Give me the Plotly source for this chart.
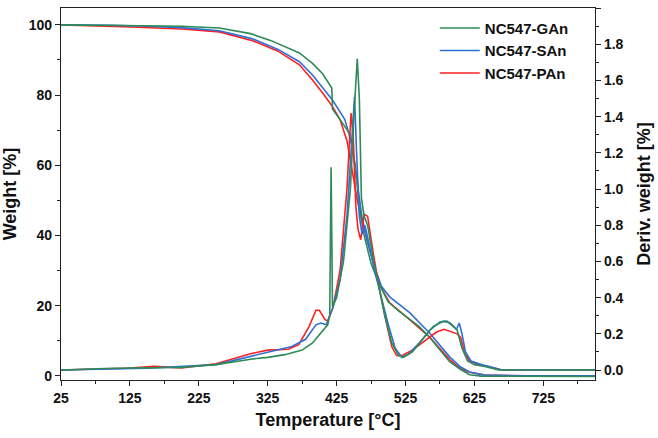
import plotly.graph_objects as go

# ---------------- data ----------------
samples = ["NC547-GAn", "NC547-SAn", "NC547-PAn"]
colors = ["#2E8B57", "#2F6FD6", "#FF2020"]

# weight (TGA) curves
gan_w_T = [25, 100, 150, 200, 255, 300, 330, 371, 390, 405, 418, 419, 430, 444, 452, 458, 465, 475, 487, 500, 515, 531, 545, 560, 575, 589, 605, 618, 635, 700, 800]
gan_w   = [100, 99.9, 99.8, 99.6, 99.1, 97.5, 95.5, 92, 89, 86, 82, 76, 73, 69, 60, 48, 40, 32, 26, 21, 18.5, 16, 14, 11, 7.5, 4, 1.8, 0.3, -0.1, -0.2, -0.2]

san_w_T = [25, 100, 150, 200, 255, 303, 340, 371, 390, 405, 419, 437, 447, 455, 462, 470, 480, 490, 502, 531, 560, 589, 605, 618, 640, 700, 800]
san_w   = [100, 99.9, 99.6, 99.2, 98.3, 96, 93, 89.5, 85.7, 82, 78.6, 73, 66, 55, 45, 38, 31, 25.5, 22.5, 18, 12.2, 5.4, 2.5, 1.1, 0.2, 0, 0]

pan_w_T = [25, 100, 127, 200, 255, 303, 340, 371, 390, 405, 419, 430, 440, 448, 455, 462, 470, 480, 490, 502, 531, 560, 589, 605, 618, 640, 700, 800]
pan_w   = [100, 99.6, 99.4, 98.8, 98, 95.5, 92.5, 88.6, 84.3, 80.5, 76.7, 73, 67, 58, 50, 44, 38, 31, 25, 20.8, 16, 11, 4.6, 2, 1, 0.2, 0, 0]

# derivative (DTG) curves
gan_d_T = [25, 100, 200, 250, 300, 325, 350, 375, 390, 405, 412, 415, 417, 419, 425, 435, 445, 450, 455, 458, 461, 465, 470, 478, 487, 495, 505, 515, 522, 535, 550, 565, 580, 590, 600, 607, 615, 625, 640, 660, 800]
gan_d   = [0.0, 0.01, 0.015, 0.03, 0.06, 0.07, 0.085, 0.11, 0.15, 0.22, 0.25, 0.3, 1.12, 0.35, 0.4, 0.6, 1.0, 1.4, 1.72, 1.5, 0.95, 0.85, 0.8, 0.62, 0.45, 0.3, 0.15, 0.08, 0.07, 0.1, 0.17, 0.24, 0.27, 0.26, 0.22, 0.12, 0.05, 0.03, 0.02, 0.0, 0.0]

san_d_T = [25, 150, 250, 300, 330, 360, 380, 395, 402, 410, 420, 430, 440, 447, 451, 454, 458, 462, 466, 472, 480, 490, 500, 510, 520, 530, 545, 560, 575, 585, 595, 599, 603, 607, 612, 620, 635, 650, 665, 800]
san_d   = [0.0, 0.01, 0.03, 0.075, 0.1, 0.13, 0.17, 0.25, 0.26, 0.25, 0.35, 0.5, 0.85, 1.3, 1.51, 1.2, 0.85, 0.75, 0.8, 0.7, 0.55, 0.4, 0.25, 0.12, 0.07, 0.09, 0.15, 0.22, 0.265, 0.27, 0.24, 0.225, 0.26, 0.2, 0.1, 0.05, 0.03, 0.015, 0.0, 0.0]

pan_d_T = [25, 120, 160, 200, 250, 300, 325, 355, 370, 385, 395, 400, 408, 412, 420, 430, 440, 446, 449, 453, 456, 460, 465, 470, 478, 487, 495, 505, 512, 520, 535, 555, 570, 581, 592, 600, 605, 611, 618, 632, 650, 665, 800]
pan_d   = [0.0, 0.01, 0.02, 0.012, 0.035, 0.09, 0.11, 0.115, 0.14, 0.24, 0.33, 0.33, 0.28, 0.27, 0.35, 0.55, 1.0, 1.42, 1.3, 0.9, 0.78, 0.72, 0.86, 0.85, 0.65, 0.45, 0.3, 0.13, 0.08, 0.08, 0.11, 0.165, 0.21, 0.225, 0.21, 0.2, 0.18, 0.09, 0.05, 0.03, 0.015, 0.0, 0.0]

weights = [(gan_w_T, gan_w), (san_w_T, san_w), (pan_w_T, pan_w)]
derivs = [(gan_d_T, gan_d), (san_d_T, san_d), (pan_d_T, pan_d)]

# ---------------- figure ----------------
fig = go.Figure()
for i in [2, 1, 0]:
    tw, w = weights[i]
    td, d = derivs[i]
    fig.add_trace(go.Scatter(x=tw, y=w, mode="lines", name="<b>" + samples[i] + "</b>",
                             line=dict(color=colors[i], width=1.6),
                             legendgroup=samples[i], showlegend=True, legendrank=i + 1))
    fig.add_trace(go.Scatter(x=td, y=d, mode="lines", name="<b>" + samples[i] + "</b>", yaxis="y2",
                             line=dict(color=colors[i], width=1.6),
                             legendgroup=samples[i], showlegend=False))

FONT = "Liberation Sans, Arial, sans-serif"
tickfont = dict(family=FONT, size=14, color="#111")
titlefont = dict(family=FONT, size=18, color="#111")

fig.update_layout(
    width=658, height=438,
    margin=dict(l=61, r=63, t=8, b=58),
    paper_bgcolor="white", plot_bgcolor="white",
    font=dict(family=FONT, color="#111"),
    xaxis=dict(range=[25, 800], tick0=25, dtick=100, showgrid=False, zeroline=False,
               showline=True, linecolor="#222", linewidth=1.2, mirror=True,
               ticks="outside", ticklen=5, tickcolor="#222",
               minor=dict(ticks="outside", tick0=25, dtick=50, ticklen=3, tickcolor="#222"),
               tickfont=tickfont, tickprefix="<b>", ticksuffix="</b>",
               title=dict(text="<b>Temperature [°C]</b>", font=titlefont, standoff=8)),
    yaxis=dict(range=[-1.2, 104.8], tick0=0, dtick=20, showgrid=False, zeroline=False,
               showline=True, linecolor="#222", linewidth=1.2,
               ticks="outside", ticklen=5, tickcolor="#222",
               minor=dict(ticks="outside", dtick=10, ticklen=3, tickcolor="#222"),
               tickfont=tickfont, tickprefix="<b>", ticksuffix="</b>",
               title=dict(text="<b>Weight [%]</b>", font=titlefont, standoff=8)),
    yaxis2=dict(range=[-0.055, 2.0], tick0=0, dtick=0.2, tickformat=".1f", overlaying="y", side="right",
                showgrid=False, zeroline=False,
                showline=True, linecolor="#222", linewidth=1.2,
                ticks="outside", ticklen=5, tickcolor="#222",
                minor=dict(ticks="outside", dtick=0.1, ticklen=3, tickcolor="#222"),
                tickfont=tickfont, tickprefix="<b>", ticksuffix="</b>",
                title=dict(text="<b>Deriv. weight [%]</b>", font=titlefont, standoff=14)),
    legend=dict(x=0.70, y=0.99, xanchor="left", yanchor="top", bgcolor="rgba(0,0,0,0)",
                font=dict(family=FONT, size=15, color="#111"),
                tracegroupgap=0, itemwidth=40),
)

fig.write_html("out.html", config={"displayModeBar": False},
               post_script="document.body.style.margin='0';document.body.style.overflow='hidden';")
